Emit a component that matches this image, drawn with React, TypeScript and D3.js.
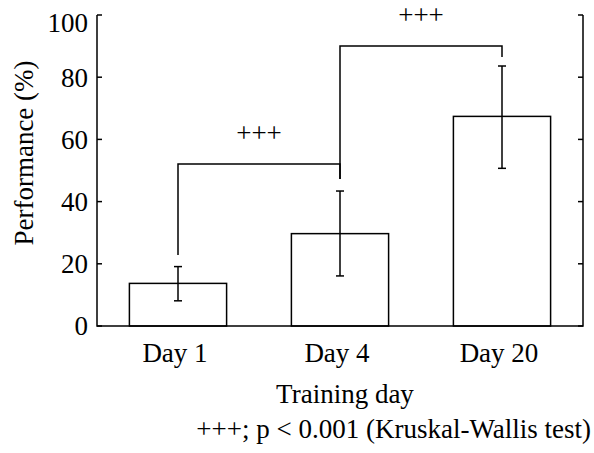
import React from 'react';
import * as d3 from 'd3';

// chart data
const categories = ['Day 1', 'Day 4', 'Day 20'];
const means = [13.7, 29.7, 67.4];
const errHigh = [19.1, 43.4, 83.6];
const errLow = [8.1, 16.1, 50.7];
const yTicks = [0, 20, 40, 60, 80, 100];

// significance brackets (indices into categories, values in %)
const bracketFrom = [0, 1];
const bracketTo = [1, 2];
const bracketLevel = [52.1, 90];
const bracketLeftEnd = [22.8, 47.3];
const bracketRightEnd = [47.3, 86.5];
const bracketLabels = ['+++', '+++'];

const W = 594;
const H = 453;
const FONT = '"Liberation Serif", "Times New Roman", serif';
const FS = 27;

const App = () => {
  // scales
  const x = d3.scaleBand<string>()
    .domain(categories)
    .range([97, 583])
    .paddingInner(0.4)
    .paddingOuter(0.2);

  const y = d3.scaleLinear()
    .domain([0, 100])
    .range([326, 15]);

  const cx = (i: number) => (x(categories[i]) as number) + x.bandwidth() / 2;
  const cap = 4;
  const [x0, x1] = x.range();

  return (
    <svg width={W} height={H} style={{ position: 'absolute', left: 0, top: 0, background: '#fff' }}
      fontFamily={FONT}>
      {/* bars */}
      {categories.map((c, i) => (
        <rect key={c}
          x={x(c)} y={y(means[i])}
          width={x.bandwidth()} height={y(0) - y(means[i])}
          fill="#fff" stroke="#000" strokeWidth={1.5} />
      ))}

      {/* error bars */}
      {categories.map((c, i) => (
        <g key={c} stroke="#000" strokeWidth={1.5}>
          <line x1={cx(i)} x2={cx(i)} y1={y(errHigh[i])} y2={y(errLow[i])} />
          <line x1={cx(i) - cap} x2={cx(i) + cap} y1={y(errHigh[i])} y2={y(errHigh[i])} />
          <line x1={cx(i) - cap} x2={cx(i) + cap} y1={y(errLow[i])} y2={y(errLow[i])} />
        </g>
      ))}

      {/* brackets */}
      {bracketLabels.map((lab, k) => {
        const a = cx(bracketFrom[k]);
        const b = cx(bracketTo[k]);
        const lv = y(bracketLevel[k]);
        return (
          <g key={k}>
            <path
              d={`M${a},${y(bracketLeftEnd[k])}V${lv}H${b}V${y(bracketRightEnd[k])}`}
              fill="none" stroke="#000" strokeWidth={1.5} />
            <text x={(a + b) / 2} y={lv - 22} textAnchor="middle" fontSize={FS}>{lab}</text>
          </g>
        );
      })}

      {/* frame: left, bottom, right */}
      <path d={`M${x0},${y(100)}V${y(0)}H${x1}V${y(100)}`} fill="none" stroke="#000" strokeWidth={1.5} />

      {/* y ticks, both sides pointing inward */}
      {yTicks.map(t => (
        <g key={t} stroke="#000" strokeWidth={1.5}>
          <line x1={x0} x2={x0 + 5} y1={y(t)} y2={y(t)} />
          <line x1={x1 - 5} x2={x1} y1={y(t)} y2={y(t)} />
        </g>
      ))}
      {yTicks.map(t => (
        <text key={t} x={88} y={Math.max(y(t), 23)} dy="0.35em" textAnchor="end" fontSize={FS}>{t}</text>
      ))}

      {/* x tick labels */}
      {categories.map((c, i) => (
        <text key={c} x={cx(i) - 3} y={362} textAnchor="middle" fontSize={FS}>{c}</text>
      ))}

      {/* axis titles */}
      <text transform="translate(33,153) rotate(-90)" textAnchor="middle" fontSize={FS}>Performance (%)</text>
      <text x={345} y={403} textAnchor="middle" fontSize={FS}>Training day</text>
      <text x={591} y={438} textAnchor="end" fontSize={FS}>+++; p &lt; 0.001 (Kruskal-Wallis test)</text>
    </svg>
  );
};

export default App;
